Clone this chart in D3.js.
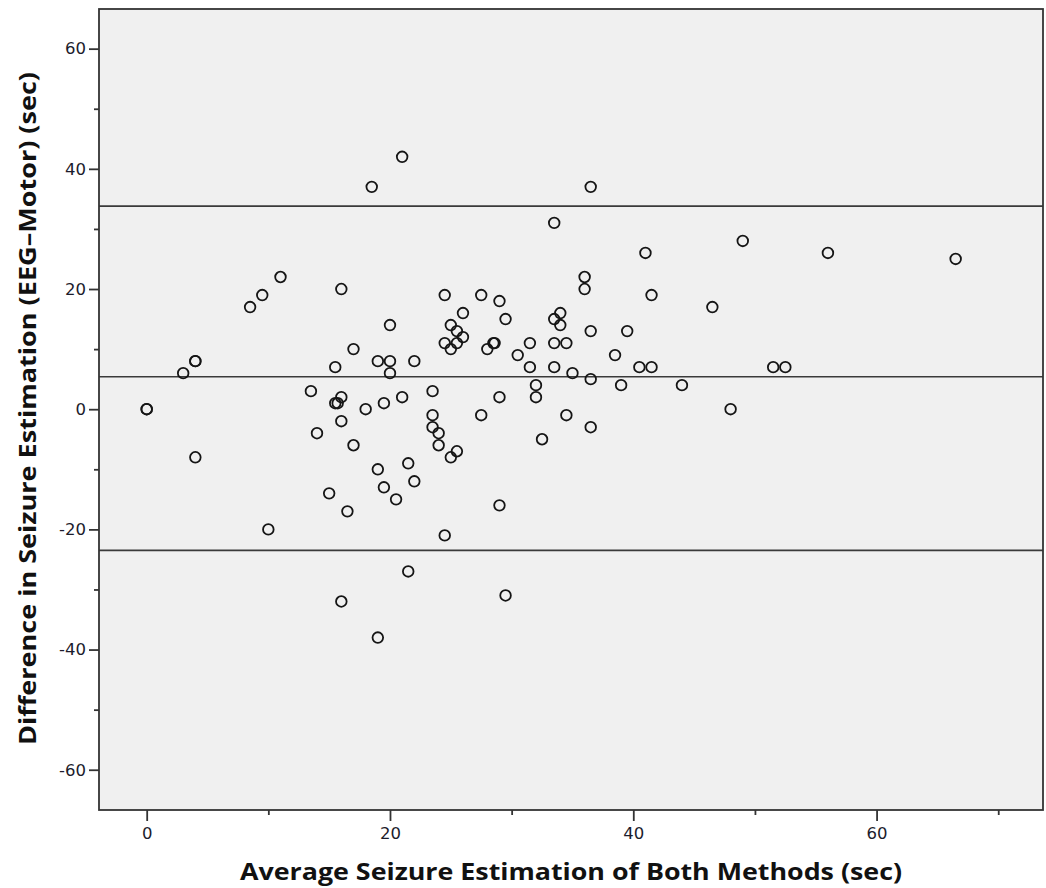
<!DOCTYPE html>
<html>
<head>
<meta charset="utf-8">
<script src="https://cdn.jsdelivr.net/npm/d3@7/dist/d3.min.js"></script>
<style>
  html, body { margin: 0; padding: 0; background: #ffffff; }
  svg { display: block; }
</style>
</head>
<body>
<div id="chart"></div>
<script>
// Bland–Altman data: average of both methods (x) and EEG − Motor difference (y), seconds
const avgValues = [
  0, 0, 3, 4, 4, 4, 8.5, 9.5, 10, 11,
  13.5, 14, 15, 15.5, 15.5, 15.7, 16, 16, 16, 16,
  16.5, 17, 17, 18, 18.5, 19, 19, 19, 19.5, 19.5,
  20, 20, 20, 20.5, 21, 21, 21.5, 21.5, 22, 22,
  23.5, 23.5, 23.5, 24, 24, 24.5, 24.5, 24.5, 25, 25,
  25, 25.5, 25.5, 25.5, 26, 26, 27.5, 27.5, 28, 28.5,
  28.6, 29, 29, 29, 29.5, 29.5, 30.5, 31.5, 31.5, 32,
  32, 32.5, 33.5, 33.5, 33.5, 33.5, 34, 34, 34.5, 34.5,
  35, 36, 36, 36.5, 36.5, 36.5, 36.5, 38.5, 39, 39.5,
  40.5, 41, 41.5, 41.5, 44, 46.5, 48, 49, 51.5, 52.5,
  56, 66.5
];
const diffValues = [
  0, 0, 6, 8, 8, -8, 17, 19, -20, 22,
  3, -4, -14, 7, 1, 1, 20, 2, -2, -32,
  -17, 10, -6, 0, 37, 8, -10, -38, 1, -13,
  14, 8, 6, -15, 42, 2, -9, -27, 8, -12,
  3, -1, -3, -4, -6, 19, 11, -21, 14, 10,
  -8, 13, 11, -7, 16, 12, 19, -1, 10, 11,
  11, 18, 2, -16, 15, -31, 9, 11, 7, 4,
  2, -5, 31, 15, 11, 7, 16, 14, 11, -1,
  6, 22, 20, 37, 13, 5, -3, 9, 4, 13,
  7, 26, 19, 7, 4, 17, 0, 28, 7, 7,
  26, 25
];

// Upper limit of agreement, mean difference, lower limit of agreement
const limitValues = [33.8, 5.4, -23.5];

const xMajorTicks = [0, 20, 40, 60];
const xMinorTicks = [10, 30, 50, 70];
const yMajorTicks = [-60, -40, -20, 0, 20, 40, 60];
const yMinorTicks = [-50, -30, -10, 10, 30, 50];

const xTitle = "Average Seizure Estimation of Both Methods (sec)";
const yTitle = "Difference in Seizure Estimation (EEG\u2013Motor) (sec)";

const W = 1046, H = 888;
const plot = { left: 99, right: 1043, top: 9, bottom: 810 };

const svg = d3.select("#chart").append("svg")
  .attr("width", W).attr("height", H);

const x = d3.scaleLinear().domain([-3.92, 73.68]).range([plot.left, plot.right]);
const y = d3.scaleLinear().domain([-66.7, 66.6]).range([plot.bottom, plot.top]);

// Plot background
svg.append("rect")
  .attr("x", plot.left).attr("y", plot.top)
  .attr("width", plot.right - plot.left).attr("height", plot.bottom - plot.top)
  .attr("fill", "#f0f0f0");

// Agreement lines
svg.append("g").selectAll("line").data(limitValues).join("line")
  .attr("x1", plot.left).attr("x2", plot.right)
  .attr("y1", d => y(d)).attr("y2", d => y(d))
  .attr("stroke", "#3a3a3a").attr("stroke-width", 1.6);

// Points
svg.append("g").selectAll("circle").data(avgValues).join("circle")
  .attr("cx", d => x(d))
  .attr("cy", (d, i) => y(diffValues[i]))
  .attr("r", 5.3)
  .attr("fill", "none")
  .attr("stroke", "#151515")
  .attr("stroke-width", 1.8);

// Frame
svg.append("rect")
  .attr("x", plot.left).attr("y", plot.top)
  .attr("width", plot.right - plot.left).attr("height", plot.bottom - plot.top)
  .attr("fill", "none").attr("stroke", "#333").attr("stroke-width", 1.8);

const tickFont = "'DejaVu Sans', sans-serif";
const plainNumber = d => String(d);

function styleAxis(g) {
  g.select(".domain").remove();
  g.selectAll(".tick line").attr("stroke", "#333").attr("stroke-width", 1.8);
  g.selectAll(".tick text")
    .attr("fill", "#1c1c2c")
    .style("font-family", tickFont)
    .style("font-size", "16.5px");
}

// X axis: major ticks with labels, minor ticks without
svg.append("g")
  .attr("transform", `translate(0,${plot.bottom})`)
  .call(d3.axisBottom(x).tickValues(xMajorTicks).tickSize(11).tickPadding(6).tickFormat(plainNumber))
  .call(styleAxis);
svg.append("g")
  .attr("transform", `translate(0,${plot.bottom})`)
  .call(d3.axisBottom(x).tickValues(xMinorTicks).tickSize(5).tickFormat(""))
  .call(styleAxis);

// Y axis
svg.append("g")
  .attr("transform", `translate(${plot.left},0)`)
  .call(d3.axisLeft(y).tickValues(yMajorTicks).tickSize(10).tickPadding(3).tickFormat(plainNumber))
  .call(styleAxis);
svg.append("g")
  .attr("transform", `translate(${plot.left},0)`)
  .call(d3.axisLeft(y).tickValues(yMinorTicks).tickSize(5).tickFormat(""))
  .call(styleAxis);

// Axis titles
const titleFont = "'Open Sans', sans-serif";
svg.append("text")
  .attr("x", (plot.left + plot.right) / 2).attr("y", 880)
  .attr("text-anchor", "middle")
  .attr("textLength", 662).attr("lengthAdjust", "spacingAndGlyphs")
  .style("font-family", titleFont).style("font-weight", "bold").style("font-size", "24px")
  .attr("fill", "#111")
  .text(xTitle);

svg.append("text")
  .attr("transform", `translate(36,${408.5}) rotate(-90)`)
  .attr("text-anchor", "middle")
  .attr("textLength", 673).attr("lengthAdjust", "spacingAndGlyphs")
  .style("font-family", titleFont).style("font-weight", "bold").style("font-size", "24px")
  .attr("fill", "#111")
  .text(yTitle);
</script>
</body>
</html>
